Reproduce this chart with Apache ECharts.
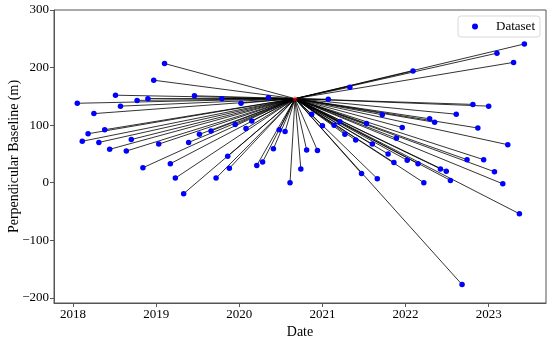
<!DOCTYPE html>
<html>
<head>
<meta charset="utf-8">
<script src="https://cdn.jsdelivr.net/npm/echarts@6/dist/echarts.min.js"></script>
<style>html,body{margin:0;padding:0;background:#fff;}#c{width:550px;height:339px;}</style>
</head>
<body>
<div id="c"></div>
<script>
// Reference (master) acquisition: decimal year, perpendicular baseline (m)
const masterDate = 2020.67;
const masterBaseline = 146;

// Secondary acquisitions: decimal years
const dates = [
  2019.10, 2018.97, 2018.51, 2018.05, 2018.77, 2018.90, 2018.57, 2018.25, 2018.38, 2018.18,
  2018.11, 2018.31, 2018.70, 2018.44, 2018.64, 2019.03, 2019.39, 2019.52, 2018.84, 2019.17,
  2019.23, 2019.33, 2019.46, 2019.79, 2020.02, 2020.35, 2019.66, 2019.95, 2020.08, 2020.15,
  2019.86, 2020.41, 2020.21, 2020.28, 2019.88, 2019.72, 2020.48, 2020.55, 2020.61, 2020.74,
  2020.81, 2020.94,
  2021.07, 2021.33, 2020.87, 2021.00, 2021.14, 2021.21, 2021.53, 2021.27, 2021.40, 2021.60,
  2021.47, 2021.66, 2023.43, 2023.10, 2023.30, 2022.09, 2022.81, 2023.00, 2022.61, 2021.72,
  2022.29, 2022.35, 2022.87, 2021.96, 2023.23, 2021.89, 2021.79, 2021.86, 2022.02, 2022.15,
  2022.42, 2022.74, 2022.94, 2022.49, 2022.22, 2022.54, 2023.07, 2023.17, 2023.37, 2022.68
];
// Secondary acquisitions: perpendicular baseline (m)
const baselines = [
  207, 178, 152, 138, 143, 146, 133, 120, 92, 85,
  72, 70, 75, 58, 55, 67, 70, 84, 26, 33,
  8, -19, 151, 146, 138, 148, 90, 101, 94, 107,
  46, 59, 30, 36, 25, 8, 92, 89, 0, 24,
  57, 56,
  145, 166, 119, 99, 100, 106, 103, 84, 74, 67,
  16, 7, 241, 225, 209, 194, 136, 133, 119, 118,
  111, 105, 95, 96, 66, 77, 50, 35, 39, 33,
  24, 40, 40, 20, 0, 4, 19, -2, -54, -177
];

const xTicks = [2018, 2019, 2020, 2021, 2022, 2023];
const yTicks = [-200, -100, 0, 100, 200, 300];

const points = dates.map((d, i) => [d, baselines[i]]);
const links = points.map(p => ({ coords: [[masterDate, masterBaseline], p] }));

const starPath = 'path://M50,0 L61.8,35.4 L100,35.4 L69.1,57.3 L80.9,92.7 L50,70.8 L19.1,92.7 L30.9,57.3 L0,35.4 L38.2,35.4 Z';
const serif = '"Liberation Serif", "DejaVu Serif", serif';

const chart = echarts.init(document.getElementById('c'), null, { renderer: 'canvas' });
chart.setOption({
  animation: false,
  backgroundColor: '#fff',
  textStyle: { fontFamily: serif },
  grid: {
    left: 54, right: 4, top: 10, bottom: 36,
    show: true, borderColor: '#555', borderWidth: 1,
    outerBoundsMode: 'none'
  },
  legend: {
    data: [{ name: 'Dataset', icon: 'circle' }],
    right: 10, top: 16,
    orient: 'vertical',
    itemWidth: 6, itemHeight: 6, itemGap: 4,
    padding: [4, 5, 4, 14],
    borderColor: '#d8d8d8', borderWidth: 1, borderRadius: 3,
    backgroundColor: '#fff',
    formatter: name => '    ' + name,
    textStyle: { fontFamily: serif, fontSize: 13, color: '#000' }
  },
  xAxis: {
    type: 'value',
    min: 2017.77, max: 2023.69,
    name: 'Date', nameLocation: 'middle', nameGap: 22,
    nameMoveOverlap: false,
    nameTextStyle: { fontFamily: serif, fontSize: 14, color: '#000' },
    splitLine: { show: false },
    axisLine: { show: true, onZero: false, lineStyle: { color: '#555', width: 1 } },
    axisTick: { show: true, customValues: xTicks, length: 4, lineStyle: { color: '#555' } },
    axisLabel: { customValues: xTicks, fontFamily: serif, fontSize: 13, color: '#000', margin: 5,
      formatter: v => String(Math.round(v)) }
  },
  yAxis: {
    type: 'value',
    min: -209, max: 300,
    name: 'Perpendicular Baseline (m)', nameLocation: 'middle', nameGap: 33,
    nameMoveOverlap: false,
    nameTextStyle: { fontFamily: serif, fontSize: 14, color: '#000' },
    splitLine: { show: false },
    axisLine: { show: true, onZero: false, lineStyle: { color: '#555', width: 1 } },
    axisTick: { show: true, customValues: yTicks, length: 4, lineStyle: { color: '#555' } },
    axisLabel: { customValues: yTicks, fontFamily: serif, fontSize: 13, color: '#000', margin: 5,
      formatter: v => v < 0 ? '\u2212' + Math.abs(v) : String(v) }
  },
  series: [
    {
      type: 'lines',
      coordinateSystem: 'cartesian2d',
      data: links,
      silent: true,
      lineStyle: { color: '#000', width: 0.8, opacity: 1 },
      z: 1
    },
    {
      name: 'Dataset',
      type: 'scatter',
      data: points,
      symbol: 'circle',
      symbolSize: 5.5,
      itemStyle: { color: '#0000ff', opacity: 1 },
      z: 3
    },
    {
      name: 'Master',
      type: 'scatter',
      data: [[masterDate, masterBaseline]],
      symbol: starPath,
      symbolSize: 6,
      itemStyle: { color: '#ff0000' },
      z: 4
    }
  ]
});
</script>
</body>
</html>
